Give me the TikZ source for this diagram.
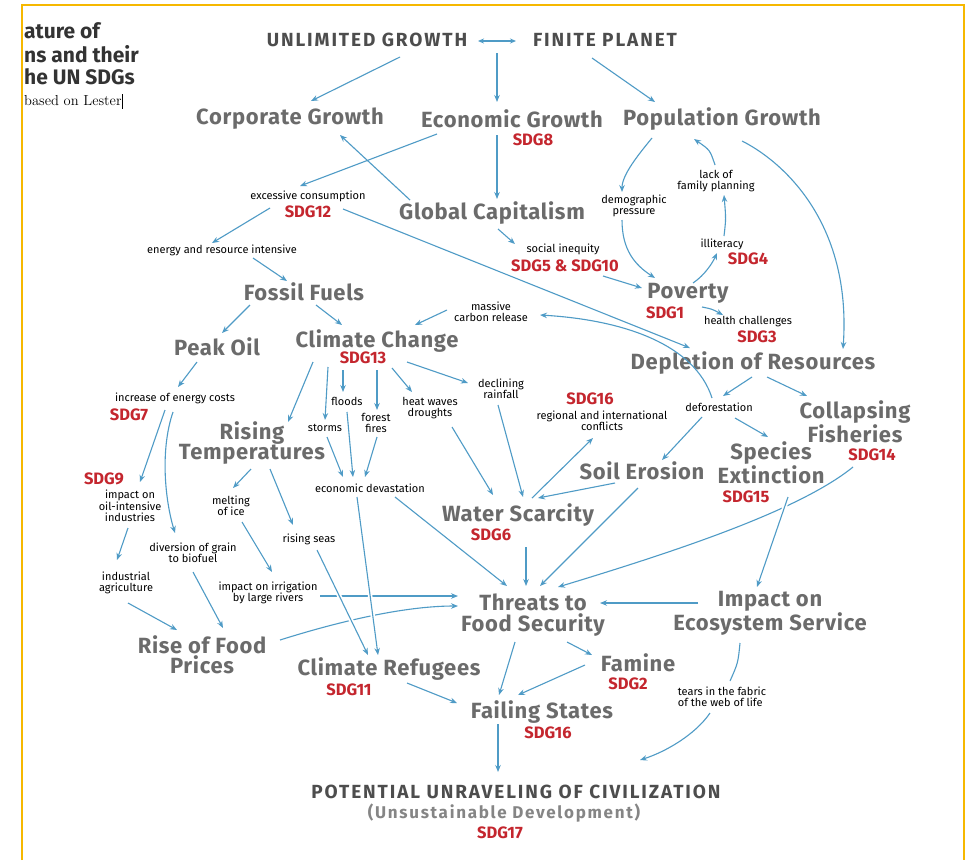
\documentclass[tikz,border=0pt]{standalone}
\usepackage{fontspec}
\newfontfamily\sansf{Fira Sans}
\newfontfamily\bigf{Fira Sans}[LetterSpace=3]
\newfontfamily\capf{Fira Sans}[LetterSpace=10]
\usetikzlibrary{arrows.meta,calc}
\definecolor{maingray}{HTML}{6B6B6B}
\definecolor{darkgraytwo}{HTML}{4D4D4D}
\definecolor{titlegray}{HTML}{333333}
\definecolor{lightgraytwo}{HTML}{858585}
\definecolor{sdgred}{HTML}{C4262E}
\definecolor{arrowblue}{HTML}{4F9BC6}
\definecolor{frameyellow}{HTML}{F6B800}
\begin{document}
\begin{tikzpicture}[x=1pt,y=-1pt,
  big/.style={font=\bigf\bfseries\fontsize{22}{20.5}\selectfont,text=maingray,align=center,inner sep=0pt},
  caps/.style={font=\capf\bfseries\fontsize{19}{20}\selectfont,text=darkgraytwo,inner sep=0pt},
  small/.style={font=\sansf\fontsize{11}{11.5}\selectfont,text=black,align=center,inner sep=0pt},
  sdg/.style={font=\sansf\bfseries\fontsize{16.5}{17}\selectfont,text=sdgred,inner sep=0pt},
  titlet/.style={font=\sansf\bfseries\fontsize{21}{22}\selectfont,text=titlegray,inner sep=0pt,anchor=west},
  arr/.style={draw=arrowblue,line width=1.1pt,-{Stealth[length=7pt,width=5.5pt]}},
  dbl/.style={draw=arrowblue,line width=1.1pt,{Stealth[length=6pt,width=5pt]}-{Stealth[length=6pt,width=5pt]}},
  plain/.style={draw=arrowblue,line width=1.1pt},
  gap/.style={preaction={draw=white,line width=4.5pt,arrows=-}},
]
\useasboundingbox (0,0) rectangle (973,860);
\fill[white] (0,0) rectangle (973,860);
\draw[frameyellow,line width=2pt] (22,860) -- (22,5) -- (964,5) -- (964,860);

% title fragment
\node[titlet] (t1) at (24,31) {ature of};
\node[titlet] (t2) at (24,54) {ns and their};
\node[titlet] (t3) at (24,77) {he UN SDGs};
\node[anchor=west,inner sep=0pt,font=\fontsize{14.5}{15}\selectfont] (t4) at (24,101) {based on Lester\rule[-3pt]{0.6pt}{15pt}};

% nodes
\node[caps] (ug) at (367,40) {UNLIMITED GROWTH};
\node[caps] (fp) at (605,40) {FINITE PLANET};
\node[big] (cg) at (290,119) {Corporate Growth};
\node[big] (eg) at (512,119) {Economic Growth};
\node[sdg] (sdg8) at (533,140) {SDG8};
\node[big] (pg) at (722,119) {Population Growth};
\node[big] (gc) at (492,213) {Global Capitalism};
\node[small] (ec) at (308,196) {excessive consumption};
\node[sdg] (sdg12) at (308,212) {SDG12};
\node[small] (eri) at (222,250) {energy and resource intensive};
\node[big] (ff) at (304,292) {Fossil Fuels};
\node[big] (po) at (217,347) {Peak Oil};
\node[big] (cc) at (377,341) {Climate Change};
\node[sdg] (sdg13) at (363,358) {SDG13};
\node[small] (mcr) at (491,312) {massive\\carbon release};
\node[small] (si) at (563,249) {social inequity};
\node[sdg] (sdg510) at (565,266) {SDG5 \& SDG10};
\node[big] (pov) at (688,293) {Poverty};
\node[sdg] (sdg1) at (665,313) {SDG1};
\node[small] (hc) at (748,322) {health challenges};
\node[sdg] (sdg3) at (757,337) {SDG3};
\node[small] (dp) at (634,206) {demographic\\pressure};
\node[small] (lfp) at (716,181) {lack of\\family planning};
\node[small] (ill) at (722,244) {illiteracy};
\node[sdg] (sdg4) at (748,259) {SDG4};
\node[big] (dor) at (753,363) {Depletion of Resources};
\node[small] (def) at (719,407) {deforestation};
\node[big] (cf) at (855,422) {Collapsing\\Fisheries};
\node[sdg] (sdg14) at (872,455) {SDG14};
\node[big] (se) at (771,463) {Species\\Extinction};
\node[sdg] (sdg15) at (746,497) {SDG15};
\node[big] (soil) at (642,471) {Soil Erosion};
\node[sdg] (sdg16a) at (590,399) {SDG16};
\node[small] (ric) at (602,421) {regional and international\\conflicts};
\node[small] (dr) at (501,389) {declining\\rainfall};
\node[small] (hw) at (430,408) {heat waves\\droughts};
\node[small] (fl) at (347,401) {floods};
\node[small] (ffi) at (376,423) {forest\\fires};
\node[small] (st) at (325,428) {storms};
\node[small] (ed) at (370,488) {economic devastation};
\node[big] (rt) at (252,443) {Rising\\Temperatures};
\node[small] (iec) at (175,398) {increase of energy costs};
\node[sdg] (sdg7) at (129,415) {SDG7};
\node[sdg] (sdg9) at (104,479) {SDG9};
\node[small] (ioi) at (130,506) {impact on\\oil-intensive\\industries};
\node[small] (mi) at (231,506) {melting\\of ice};
\node[small] (rs) at (309,539) {rising seas};
\node[small] (dg) at (193,553) {diversion of grain\\to biofuel};
\node[small] (ia) at (126,583) {industrial\\agriculture};
\node[small] (iir) at (268,593) {impact on irrigation\\by large rivers};
\node[big] (rfp) at (202,655) {Rise of Food\\Prices};
\node[big] (cr) at (389,669) {Climate Refugees};
\node[sdg] (sdg11) at (349,690) {SDG11};
\node[big] (ws) at (518,515) {Water Scarcity};
\node[sdg] (sdg6) at (491,535) {SDG6};
\node[big] (tfs) at (533,615) {Threats to\\Food Security};
\node[big] (ies) at (770,613) {Impact on\\Ecosystem Service};
\node[big] (fam) at (638,663) {Famine};
\node[sdg] (sdg2) at (628,684) {SDG2};
\node[small,align=left] (tf) at (722,697) {tears in the fabric\\of the web of life};
\node[big] (fs) at (542,712) {Failing States};
\node[sdg] (sdg16b) at (548,733) {SDG16};
\node[caps] (pot) at (516,792) {POTENTIAL UNRAVELING OF CIVILIZATION};
\node[caps,text=lightgraytwo,font=\capf\bfseries\fontsize{17}{18}\selectfont] (ud) at (504,813) {(Unsustainable Development)};
\node[sdg] (sdg17) at (500,833) {SDG17};

% connectors
\draw[dbl] ($(ug)+(111,1)$) -- ($(fp)+(-89,1)$);
\draw[arr] ($(ug)+(33,17)$) -- ($(cg)+(21,-18)$);
\draw[arr] ($(ug)+(130,13)$) -- ($(eg)+(-15,-17)$);
\draw[arr] ($(fp)+(-13,18)$) -- ($(pg)+(-67,-17)$);
\draw[arr] ($(eg)+(-75,15)$) -- ($(ec)+(-8,-10)$);
\draw[arr] ($(gc)+(-82,-13)$) -- ($(cg)+(50,16)$);
\draw[arr] ($(eg)+(-15,16)$) -- ($(gc)+(5,-14)$);
\draw[arr] ($(gc)+(6,16)$) -- ($(si)+(-48,-5)$);
\draw[arr] ($(sdg510)+(38,10)$) -- ($(pov)+(-46,-5)$);
\draw[arr] ($(sdg12)+(-38,-4)$) -- ($(eri)+(-10,-7)$);
\draw[arr] ($(eri)+(31,8)$) -- ($(ff)+(-17,-11)$);
\draw[arr] ($(ff)+(-54,13)$) -- ($(po)+(5,-14)$);
\draw[arr] ($(ff)+(12,13)$) -- ($(cc)+(-35,-16)$);
\draw[arr] ($(sdg12)+(35,-3)$) -- ($(dor)+(-63,-15)$);
\draw[arr] ($(def)+(-7,-9)$) .. controls ($(def)+(-24,-62)$) and ($(mcr)+(134,8)$) .. ($(mcr)+(49,3)$);
\draw[arr] ($(mcr)+(-44,-2)$) -- ($(cc)+(38,-16)$);
\draw[arr] ($(pg)+(-70,19)$) .. controls ($(pg)+(-84,36)$) and ($(dp)+(-12,-31)$) .. ($(dp)+(-12,-14)$);
\draw[arr] ($(dp)+(-12,14)$) .. controls ($(dp)+(-12,44)$) and ($(pov)+(-53,-28)$) .. ($(pov)+(-33,-15)$);
\draw[arr] ($(pov)+(5,-10)$) .. controls ($(pov)+(17,-18)$) and ($(ill)+(-9,18)$) .. ($(ill)+(-5,9)$);
\draw[arr] ($(ill)+(2,-8)$) .. controls ($(ill)+(4,-25)$) .. ($(lfp)+(8,14)$);
\draw[arr] ($(lfp)+(-1,-16)$) .. controls ($(lfp)+(-6,-31)$) .. ($(pg)+(-28,20)$);
\draw[arr] ($(pg)+(20,22)$) .. controls ($(pg)+(58,41)$) and ($(dor)+(99,-143)$) .. ($(dor)+(90,-14)$);
\draw[arr] ($(pov)+(14,14)$) .. controls ($(pov)+(24,16)$) .. ($(hc)+(-25,-7)$);
\draw[arr] ($(dor)+(-1,14)$) -- ($(def)+(4,-11)$);
\draw[arr] ($(dor)+(14,14)$) -- ($(cf)+(-48,-26)$);
\draw[arr] ($(def)+(16,11)$) -- ($(se)+(-3,-26)$);
\draw[arr] ($(def)+(-17,10)$) -- ($(soil)+(20,-11)$);
\draw[arr] ($(cc)+(-64,21)$) -- ($(rt)+(36,-21)$);
\draw[arr] ($(cc)+(-49,26)$) -- ($(st)+(0,-8)$);
\draw[arr] ($(sdg13)+(-20,12)$) -- ($(fl)+(-4,-9)$);
\draw[arr] ($(sdg13)+(14,12)$) -- ($(ffi)+(1,-13)$);
\draw[arr] ($(sdg13)+(29,10)$) -- ($(hw)+(-18,-16)$);
\draw[arr] ($(cc)+(30,21)$) -- ($(dr)+(-33,-6)$);
\draw[arr] ($(st)+(2,9)$) -- ($(ed)+(-27,-11)$);
\draw[arr] ($(fl)+(0,11)$) -- ($(ed)+(-17,-11)$);
\draw[arr] ($(ffi)+(1,14)$) -- ($(ed)+(-5,-11)$);
\draw[arr] ($(hw)+(22,19)$) -- ($(ws)+(-25,-20)$);
\draw[arr] ($(dr)+(-3,16)$) -- ($(ws)+(5,-18)$);
\draw[arr] ($(ws)+(14,-17)$) -- ($(ric)+(-9,17)$);
\draw[arr] ($(soil)+(-27,12)$) -- ($(ws)+(20,-17)$);
\draw[arr] ($(soil)+(-4,17)$) -- ($(tfs)+(7,-29)$);
\draw[arr] ($(ed)+(25,9)$) -- ($(tfs)+(-26,-29)$);
\draw[arr] ($(ws)+(8,32)$) -- ($(tfs)+(-7,-29)$);
\draw[arr] ($(sdg14)+(-19,12)$) .. controls ($(sdg14)+(-72,55)$) and ($(tfs)+(147,-65)$) .. ($(tfs)+(25,-28)$);
\draw[arr,gap] ($(se)+(17,34)$) -- ($(ies)+(-13,-26)$);
\draw[arr] ($(ies)+(-72,-10)$) -- ($(tfs)+(67,-12)$);
\draw[plain] ($(ies)+(-30,30)$) .. controls ($(ies)+(-32,50)$) .. ($(tf)+(8,-16)$);
\draw[arr] ($(tf)+(-12,16)$) .. controls ($(tf)+(-27,38)$) and ($(pot)+(149,-40)$) .. ($(pot)+(124,-32)$);
\draw[arr] ($(tfs)+(34,27)$) -- ($(fam)+(-46,-8)$);
\draw[arr] ($(tfs)+(-18,27)$) -- ($(fs)+(-43,-17)$);
\draw[arr] ($(fam)+(-53,2)$) -- ($(fs)+(-24,-17)$);
\draw[arr] ($(cr)+(18,14)$) -- ($(fs)+(-85,-9)$);
\draw[arr] ($(fs)+(-44,12)$) -- ($(pot)+(-18,-20)$);
\draw[arr] ($(rt)+(-1,26)$) -- ($(mi)+(2,-18)$);
\draw[arr] ($(rt)+(18,26)$) -- ($(rs)+(-16,-14)$);
\draw[arr] ($(mi)+(11,16)$) -- ($(iir)+(4,-21)$);
\draw[arr] ($(iir)+(52,3)$) -- ($(tfs)+(-75,-19)$);
\draw[arr] ($(rfp)+(78,-15)$) .. controls ($(rfp)+(148,-37)$) and ($(tfs)+(-123,-9)$) .. ($(tfs)+(-75,-9)$);
\draw[arr,gap] ($(rs)+(8,11)$) -- ($(cr)+(-21,-14)$);
\draw[arr,gap] ($(ed)+(-13,9)$) -- ($(cr)+(-11,-14)$);
\draw[arr] ($(iec)+(-10,12)$) -- ($(ioi)+(10,-24)$);
\draw[arr] ($(iec)+(-2,14)$) .. controls ($(iec)+(-15,52)$) and ($(dg)+(-28,-53)$) .. ($(dg)+(-18,-20)$);
\draw[arr] ($(po)+(-20,15)$) -- ($(iec)+(3,-11)$);
\draw[arr] ($(ioi)+(-2,22)$) -- ($(ia)+(-9,-23)$);
\draw[arr] ($(ia)+(2,20)$) -- ($(rfp)+(-25,-25)$);
\draw[arr] ($(dg)+(0,19)$) -- ($(rfp)+(21,-27)$);
\end{tikzpicture}
\end{document}
